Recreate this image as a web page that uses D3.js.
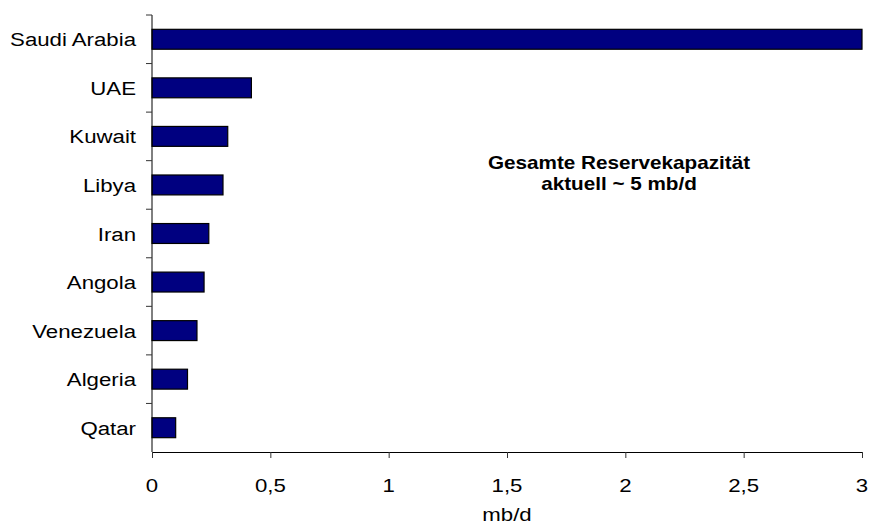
<!DOCTYPE html>
<html>
<head>
<meta charset="utf-8">
<script src="https://cdn.jsdelivr.net/npm/d3@7"></script>
<style>
  html, body { margin: 0; padding: 0; background: #fff; }
  svg { display: block; font-family: "Liberation Sans", Arial, sans-serif; }
</style>
</head>
<body>
<svg id="chart" width="870" height="529"></svg>
<script>
// Spare production capacity by country (mb/d)
const countries = ["Saudi Arabia", "UAE", "Kuwait", "Libya", "Iran", "Angola", "Venezuela", "Algeria", "Qatar"];
const capacity = [3.0, 0.42, 0.32, 0.30, 0.24, 0.22, 0.19, 0.15, 0.10];
const xTicks = [0, 0.5, 1, 1.5, 2, 2.5, 3];
const xTickLabels = ["0", "0,5", "1", "1,5", "2", "2,5", "3"];
const axisTitle = "mb/d";
const noteLines = ["Gesamte Reservekapazität", "aktuell ~ 5 mb/d"];

const svg = d3.select("#chart");
const plotLeft = 152, plotRight = 862, plotTop = 15, plotBottom = 452;
const stretch = 1.17; // text is drawn slightly wide
const fontSize = 19;

const x = d3.scaleLinear().domain([0, 3]).range([plotLeft, plotRight]);
const y = d3.scaleBand().domain(countries).range([plotTop, plotBottom])
  .paddingInner(0.59).paddingOuter(0.295);

const data = countries.map((c, i) => ({ name: c, value: capacity[i] }));

// bars
svg.append("g").selectAll("rect").data(data).join("rect")
  .attr("x", x(0))
  .attr("y", d => y(d.name))
  .attr("width", d => x(d.value) - x(0))
  .attr("height", y.bandwidth())
  .attr("fill", "#000080")
  .attr("stroke", "#000")
  .attr("stroke-width", 1.2);

// x axis
const xAxis = svg.append("g").attr("transform", `translate(0,${plotBottom})`)
  .call(d3.axisBottom(x).tickValues(xTicks).tickSize(6).tickSizeOuter(0).tickFormat(() => ""));
xAxis.select(".domain").attr("stroke", "#000");
xAxis.selectAll(".tick line").attr("stroke", "#333");

svg.append("g").selectAll("text").data(xTicks).join("text")
  .attr("transform", d => `translate(${x(d)},${plotBottom + 40}) scale(${stretch},1)`)
  .attr("text-anchor", "middle")
  .attr("font-size", fontSize)
  .attr("fill", "#000")
  .text((d, i) => xTickLabels[i]);

svg.append("text")
  .attr("transform", `translate(${(plotLeft + plotRight) / 2},${plotBottom + 69}) scale(${stretch},1)`)
  .attr("text-anchor", "middle")
  .attr("font-size", fontSize)
  .attr("fill", "#000")
  .text(axisTitle);

// y axis: line plus ticks at the category boundaries
const boundaries = d3.range(countries.length).map(i => plotTop + i * y.step());
const gy = svg.append("g");
gy.append("line")
  .attr("x1", plotLeft).attr("x2", plotLeft)
  .attr("y1", plotTop).attr("y2", plotBottom)
  .attr("stroke", "#000");
gy.selectAll("line.tick").data(boundaries).join("line")
  .attr("class", "tick")
  .attr("x1", plotLeft - 6).attr("x2", plotLeft)
  .attr("y1", d => d).attr("y2", d => d)
  .attr("stroke", "#333");

gy.selectAll("text").data(countries).join("text")
  .attr("transform", d => `translate(${plotLeft - 16},${y(d) + y.bandwidth() / 2 + 7}) scale(${stretch},1)`)
  .attr("text-anchor", "end")
  .attr("font-size", fontSize)
  .attr("fill", "#000")
  .text(d => d);

// annotation
svg.append("g").selectAll("text").data(noteLines).join("text")
  .attr("transform", (d, i) => `translate(619,${169 + i * 21}) scale(1.15,1)`)
  .attr("text-anchor", "middle")
  .attr("font-size", 18)
  .attr("font-weight", "bold")
  .attr("fill", "#000")
  .text(d => d);
</script>
</body>
</html>
